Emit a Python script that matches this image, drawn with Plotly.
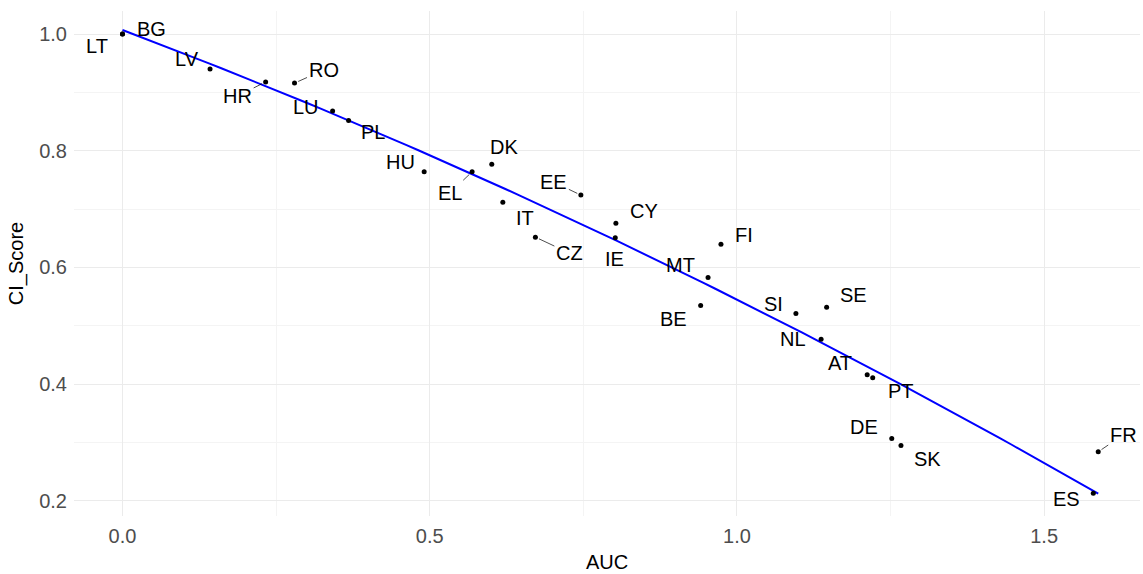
import numpy as np
import plotly.graph_objects as go

countries = ["LT", "BG", "LV", "HR", "RO", "LU", "PL", "HU", "EL", "DK", "IT", "CZ", "EE",
             "CY", "IE", "FI", "MT", "BE", "SI", "SE", "NL", "AT", "PT", "DE", "SK", "FR", "ES"]
auc = [0.0, 0.0, 0.1425, 0.233, 0.280, 0.342, 0.368, 0.491, 0.569, 0.601, 0.619, 0.672, 0.746,
       0.803, 0.802, 0.974, 0.953, 0.941, 1.096, 1.146, 1.137, 1.212, 1.221, 1.252, 1.267, 1.588, 1.580]
ci_score = [1.0, 1.0, 0.940, 0.918, 0.916, 0.868, 0.852, 0.764, 0.764, 0.777, 0.712, 0.652, 0.724,
            0.676, 0.651, 0.640, 0.583, 0.535, 0.521, 0.532, 0.477, 0.416, 0.411, 0.307, 0.295, 0.284, 0.213]

# label offsets in pixels (repelled label placement) and whether a segment is drawn
label_dx = [-25, 29, -23, -28, 29, -27, 24, -24, -22, 12, 22, 34, -27,
            28, -1, 23, -28, -27, -22, 27, -28, -27, 28, -28, 27, 25, -27]
label_dy = [12, -5, -10, 14, -13, -4, 12, -10, 21, -17, 16, 16, -13,
            -12, 21, -9, -12, 14, -10, -12, 0, -12, 13, -11, 14, -17, 6]
segment = ["HR", "RO", "EL", "CZ", "EE", "FR"]

x = np.array(auc)
y = np.array(ci_score)

# smooth fit: quadratic least squares on the data
coef = np.polyfit(x, y, 2)
xs = np.linspace(x.min(), x.max(), 80)
ys = np.polyval(coef, xs)

FONT = "Liberation Sans, Arial"

fig = go.Figure()
fig.add_trace(go.Scatter(x=xs, y=ys, mode="lines", line=dict(color="#0000FF", width=2),
                         hoverinfo="skip", showlegend=False))
fig.add_trace(go.Scatter(x=auc, y=ci_score, mode="markers", text=countries,
                         marker=dict(color="black", size=5), showlegend=False))

for c, xi, yi, dx, dy in zip(countries, auc, ci_score, label_dx, label_dy):
    fig.add_annotation(x=xi, y=yi, text=c, showarrow=True, ax=dx, ay=dy,
                       arrowhead=0, arrowwidth=0.7, standoff=4,
                       arrowcolor="black" if c in segment else "rgba(0,0,0,0)",
                       font=dict(family=FONT, size=20, color="black"))

axis_common = dict(showline=False, zeroline=False, ticks="", gridcolor="#EBEBEB", gridwidth=1,
                   automargin=False,
                   tickfont=dict(family=FONT, size=20, color="#4D4D4D"),
                   title_font=dict(family=FONT, size=20, color="black"))

fig.update_layout(
    width=1143, height=574,
    margin=dict(l=74, r=3, t=11, b=58),
    plot_bgcolor="white", paper_bgcolor="white",
    xaxis=dict(range=[-0.0789, 1.656], tickvals=[0, 0.5, 1.0, 1.5], ticktext=["0.0", "0.5", "1.0", "1.5"],
               minor=dict(tickvals=[0.25, 0.75, 1.25], gridcolor="#F4F4F4", showgrid=True),
               title=dict(text="AUC", standoff=8), ticklabelstandoff=6, **axis_common),
    yaxis=dict(range=[0.174, 1.0396], tickvals=[0.2, 0.4, 0.6, 0.8, 1.0], ticktext=["0.2", "0.4", "0.6", "0.8", "1.0"],
               minor=dict(tickvals=[0.3, 0.5, 0.7, 0.9], gridcolor="#F4F4F4", showgrid=True),
               title=dict(text="CI_Score", standoff=10), ticklabelstandoff=6, **axis_common),
)

fig.write_html("out.html", config={"displayModeBar": False},
               post_script="document.body.style.margin='0';document.body.style.overflow='hidden';")
